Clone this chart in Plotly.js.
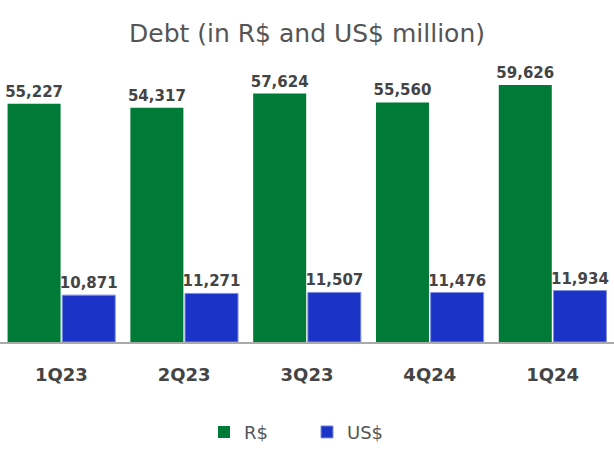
<!DOCTYPE html>
<html><head><meta charset="utf-8">
<script src="https://cdn.plot.ly/plotly-3.0.1.min.js"></script>
<style>html,body{margin:0;padding:0;background:#fff}</style>
</head><body><div id="chart" style="width:614px;height:452px"></div>
<script>
var categories = ["1Q23", "2Q23", "3Q23", "4Q24", "1Q24"];
var brlValues = [55227, 54317, 57624, 55560, 59626];
var usdValues = [10871, 11271, 11507, 11476, 11934];
var seriesNames = ["R$", "US$"];

var FONT = "DejaVu Sans, Noto Sans, sans-serif";
var lblFont = {family: FONT, size: 15, color: "#444", weight: "bold"};
var traces = [
  {type: "bar", name: seriesNames[0], x: categories, y: brlValues,
   marker: {color: "#007A37"}, texttemplate: "<b>%{y:,}</b>", textposition: "outside",
   constraintext: "none",
   textfont: lblFont, cliponaxis: false, hoverinfo: "none"},
  {type: "bar", name: seriesNames[1], x: categories, y: usdValues,
   marker: {color: "#1B33C7", line: {color: "#8090e0", width: 1}}, texttemplate: "<b>%{y:,}</b>", textposition: "outside",
   constraintext: "none",
   textfont: lblFont, cliponaxis: false, hoverinfo: "none"}
];
var layout = {
  width: 614, height: 452,
  margin: {l: 0, r: 0, t: 60, b: 110},
  paper_bgcolor: "#fff", plot_bgcolor: "#fff",
  font: {family: FONT, color: "#555"},
  title: {text: "Debt (in R$ and US$ million)", font: {family: FONT, size: 25, color: "#555"}, x: 0.5, xanchor: "center", y: 0.927, yanchor: "middle", yref: "container"},
  barmode: "group", bargap: 0.11, bargroupgap: 0.03,
  xaxis: {showline: true, linecolor: "#aaa", linewidth: 2, ticks: "outside", ticklen: 15, tickcolor: "rgba(0,0,0,0)",
          tickfont: {family: FONT, size: 18, color: "#444", weight: "bold"}, fixedrange: true},
  yaxis: {range: [0, 65400], visible: false, showgrid: false, zeroline: false, fixedrange: true},
  showlegend: true,
  legend: {orientation: "h", x: 0.5, xanchor: "center", y: -0.32, yanchor: "middle", font: {family: FONT, size: 18, color: "#555"}, traceorder: "normal", entrywidth: 58}
};
Plotly.newPlot("chart", traces, layout, {displayModeBar: false, staticPlot: true});
</script></body></html>
